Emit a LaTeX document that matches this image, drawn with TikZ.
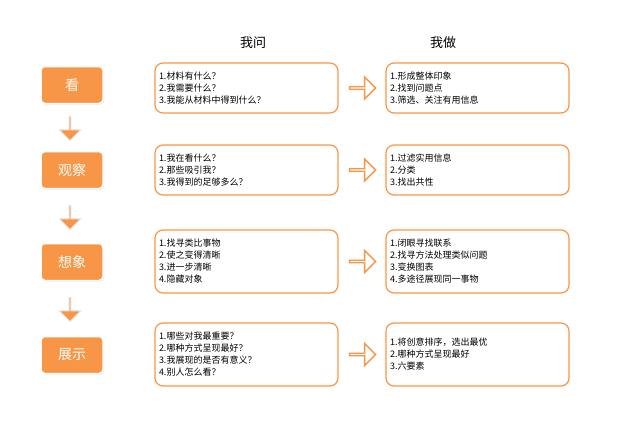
\documentclass[tikz,border=0pt]{standalone}
\usepackage{fontspec}
\setmainfont{Noto Sans CJK SC}
\usetikzlibrary{shapes.arrows,shadows}
\definecolor{org}{HTML}{F79646}
\begin{document}
\begin{tikzpicture}[x=1pt,y=-1pt,
 stagebox/.style={draw=white,line width=1.5pt,fill=org,rounded corners=4pt,minimum width=62pt,minimum height=37pt,text=white,font=\fontsize{14}{16}\selectfont,drop shadow={shadow xshift=1pt,shadow yshift=-1pt,opacity=0.25}},
 box/.style={draw=org,line width=1.2pt,rounded corners=8pt,minimum width=183pt,text width=175pt,align=left,font=\fontsize{9}{12}\selectfont,inner sep=4pt},
 rarr/.style={single arrow,draw=org,line width=1.3pt,fill=white,minimum height=26pt,minimum width=22pt,single arrow head extend=5pt,inner sep=0pt},
 darr/.style={single arrow,shape border rotate=270,draw=white!80!gray,line width=1pt,fill=org,minimum height=24pt,minimum width=21pt,single arrow head extend=5pt,inner sep=0pt},
 head/.style={font=\fontsize{13}{15}\selectfont}]
\useasboundingbox (0,0) rectangle (617,436);
\node[head] (h1) at (253,43) {我问};
\node[head] (h2) at (443,43) {我做};
\foreach \n/\t/\y in {s1/看/85,s2/观察/170,s3/想象/262,s4/展示/355}
  \node[stagebox] (\n) at (72,\y) {\t};
\node[darr] (d1) at (70,128) {};
\node[darr] (d2) at (70,217) {};
\node[darr] (d3) at (70,309) {};
\node[box,minimum height=50pt] (q1) at (246.5,88) {1.材料有什么？\\2.我需要什么？\\3.我能从材料中得到什么？};
\node[box,minimum height=50pt] (q2) at (246.5,170) {1.我在看什么？\\2.那些吸引我？\\3.我得到的足够多么？};
\node[box,minimum height=63pt] (q3) at (246.5,261.5) {1.找寻类比事物\\2.使之变得清晰\\3.进一步清晰\\4.隐藏对象};
\node[box,minimum height=63pt] (q4) at (246.5,354.5) {1.哪些对我最重要？\\2.哪种方式呈现最好？\\3.我展现的是否有意义？\\4.别人怎么看？};
\node[box,minimum height=50pt] (a1) at (477.5,88) {1.形成整体印象\\2.找到问题点\\3.筛选、关注有用信息};
\node[box,minimum height=50pt] (a2) at (477.5,170) {1.过滤实用信息\\2.分类\\3.找出共性};
\node[box,minimum height=63pt] (a3) at (477.5,261.5) {1.闭眼寻找联系\\2.找寻方法处理类似问题\\3.变换图表\\4.多途径展现同一事物};
\node[box,minimum height=63pt] (a4) at (477.5,354.5) {1.将创意排序，选出最优\\2.哪种方式呈现最好\\3.六要素};
\node[rarr] (r1) at (362,88) {};
\node[rarr] (r2) at (362,170) {};
\node[rarr] (r3) at (362,261.5) {};
\node[rarr] (r4) at (362,354.5) {};
\end{tikzpicture}
\end{document}
